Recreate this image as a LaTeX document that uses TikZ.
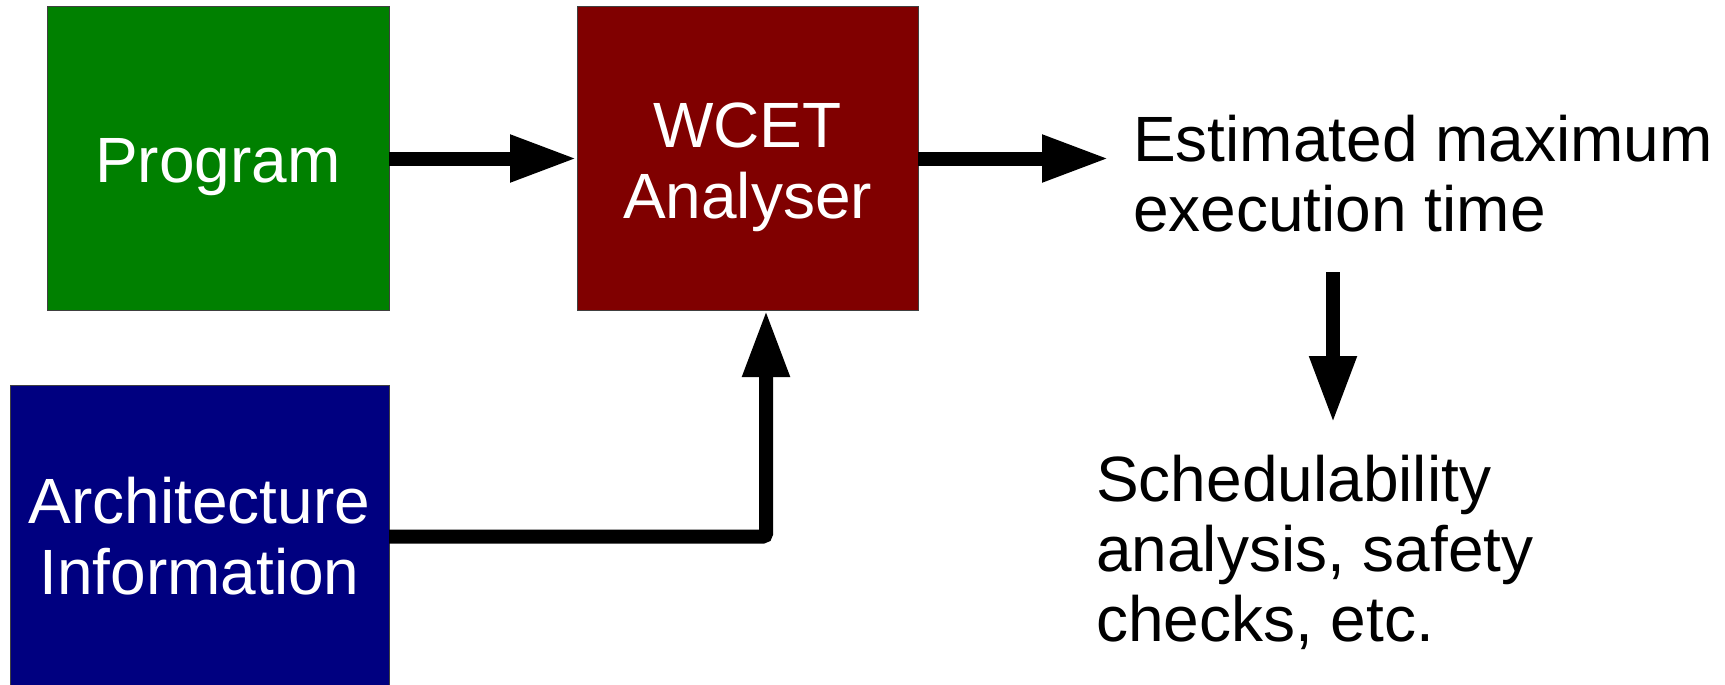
\documentclass[tikz,border=0pt]{standalone}
\usepackage{fontspec}
\setmainfont{Liberation Sans}
\usetikzlibrary{arrows.meta}
\definecolor{progGreen}{RGB}{0,128,0}
\definecolor{toolRed}{RGB}{128,0,0}
\definecolor{archBlue}{RGB}{0,0,128}
\tikzset{
  block/.style={draw=black!75, line width=1pt, inner sep=0pt, outer sep=0pt,
    text=white, align=center, font=\fontsize{64}{71}\selectfont},
  label/.style={inner sep=0pt, align=left, font=\fontsize{64}{70}\selectfont},
  flow/.style={line width=14pt, -{Triangle[length=67pt,width=44pt]}},
}
\begin{document}
\begin{tikzpicture}[x=1pt, y=-1pt]
  \useasboundingbox (0,0) rectangle (1725,685);

  % the three input / processing blocks
  \node[block, fill=progGreen, minimum width=342pt, minimum height=303pt,
        text height=56pt, text depth=8pt]
    (prog) at (218,158.5) {Program};
  \node[block, fill=toolRed, minimum width=341pt, minimum height=303pt,
        text height=125pt, text depth=6pt]
    (wcet) at (747.5,158.5) {WCET\\Analyser};
  \node[block, fill=archBlue, minimum width=379pt, minimum height=303pt,
        text height=121pt, text depth=6pt]
    (arch) at (199.5,536.5) {Architecture\\Information};

  % outputs (anchored on the baseline of their last line)
  \node[label, anchor=base west] (est) at (1133,231)
    {Estimated maximum\\execution time};
  \node[label, anchor=base west] (sched) at (1096,641)
    {Schedulability\\analysis, safety\\checks, etc.};

  \coordinate (dtop) at (1333,272);
  \coordinate (dbot) at (1333,423);

  % connectors
  \draw[flow] (prog.east) -- (wcet.west);
  \draw[flow] (wcet.east) -- ([xshift=-24pt]wcet.east -| est.west);
  \draw[flow, rounded corners=3pt] (arch.east) -| ([xshift=18.5pt]wcet.south);
  \draw[flow] (dtop) -- (dbot);
\end{tikzpicture}
\end{document}
